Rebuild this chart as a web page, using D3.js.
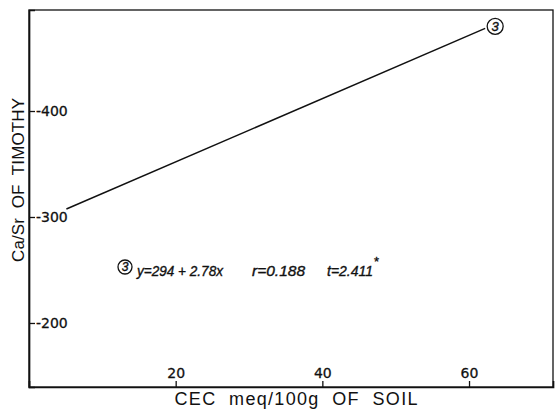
<!DOCTYPE html>
<html>
<head>
<meta charset="utf-8">
<script src="https://cdn.jsdelivr.net/npm/d3@7"></script>
<style>
  html, body { margin: 0; padding: 0; background: #fff; }
  svg { display: block; }
  .title { white-space: pre; }
</style>
</head>
<body>
<svg id="chart" width="555" height="412"></svg>
<script>
// Regression line of timothy Ca/Sr on soil CEC (curve 3)
const lineX = [5.1, 62.2];
const lineY = [307.5, 478];
const xTicks = [20, 40, 60];
const yTicks = [200, 300, 400];
const curveId = "3";
const equationText = "y=294 + 2.78x";
const rText = "r=0.188";
const tText = "t=2.411";

const W = 555, H = 412;
const margin = { left: 29, top: 10, right: 2, bottom: 25 };
const iw = W - margin.left - margin.right;
const ih = H - margin.top - margin.bottom;

const svg = d3.select("#chart");
const g = svg.append("g").attr("transform", `translate(${margin.left},${margin.top})`);

const x = d3.scaleLinear().domain([0, 71.45]).range([0, iw]);
const y = d3.scaleLinear().domain([139.6, 495.3]).range([ih, 0]);

const ink = "#111";
const tickFont = "'DejaVu Sans', sans-serif";

// frame
g.append("rect")
  .attr("x", 0).attr("y", 0).attr("width", iw).attr("height", ih)
  .attr("fill", "none").attr("stroke", ink).attr("stroke-width", 1.3);

// left axis: ticks and labels drawn inside the frame
const yAxis = g.append("g")
  .call(d3.axisRight(y).tickValues(yTicks).tickSize(6).tickPadding(1).tickFormat(d => "-" + d));
yAxis.select(".domain").attr("stroke", ink).attr("stroke-width", 1.7);
yAxis.selectAll(".tick line").attr("stroke", ink).attr("stroke-width", 1.3);
yAxis.selectAll(".tick text")
  .attr("fill", ink).attr("stroke", ink).attr("stroke-width", 0.3)
  .attr("font-family", tickFont).attr("font-size", 14);

// bottom axis: ticks pointing up, labels above
const xAxis = g.append("g").attr("transform", `translate(0,${ih})`)
  .call(d3.axisTop(x).tickValues(xTicks).tickSize(6).tickPadding(3));
xAxis.select(".domain").attr("stroke", ink).attr("stroke-width", 1.7);
xAxis.selectAll(".tick line").attr("stroke", ink).attr("stroke-width", 1.3);
xAxis.selectAll(".tick text")
  .attr("fill", ink).attr("stroke", ink).attr("stroke-width", 0.3)
  .attr("font-family", tickFont).attr("font-size", 14);

// regression line
const pts = lineX.map((v, i) => [v, lineY[i]]);
g.append("path")
  .datum(pts)
  .attr("d", d3.line().x(d => x(d[0])).y(d => y(d[1])))
  .attr("fill", "none").attr("stroke", ink).attr("stroke-width", 1.5);

// circled curve number
function circledNumber(parent, cx, cy, r, size) {
  parent.append("circle").attr("cx", cx).attr("cy", cy).attr("r", r)
    .attr("fill", "#fff").attr("stroke", ink).attr("stroke-width", 1.3);
  parent.append("text").attr("x", cx).attr("y", cy + size * 0.36)
    .attr("text-anchor", "middle").attr("font-family", "'Liberation Sans', sans-serif")
    .attr("font-style", "italic").attr("font-size", size).attr("fill", ink)
    .attr("stroke", ink).attr("stroke-width", 0.4)
    .text(curveId);
}
const endPt = pts[pts.length - 1];
circledNumber(g, x(endPt[0]) + 10, y(endPt[1]) - 2, 8, 13);

// equation annotation
const ann = g.append("g");
const annFont = "'Liberation Sans', sans-serif";
circledNumber(ann, 96, 257, 7, 12);
function annText(xp, txt, len) {
  return ann.append("text").attr("x", xp).attr("y", 266)
    .attr("font-family", annFont).attr("font-style", "italic").attr("font-size", 14)
    .attr("fill", ink).attr("stroke", ink).attr("stroke-width", 0.35)
    .attr("textLength", len).attr("lengthAdjust", "spacingAndGlyphs")
    .text(txt);
}
annText(108, equationText, 86);
annText(223, rText, 53);
// t value with its significance mark as a superscript
const tLabel = ann.append("text").attr("x", 298).attr("y", 266)
  .attr("font-family", annFont).attr("font-style", "italic").attr("font-size", 14)
  .attr("fill", ink).attr("stroke", ink).attr("stroke-width", 0.35);
tLabel.append("tspan").text(tText);
tLabel.append("tspan").attr("dx", 1).attr("dy", -10)
  .attr("font-style", "normal").attr("font-size", 13).text("*");

// axis titles
svg.append("text").attr("class", "title")
  .attr("transform", `translate(24,180) rotate(-90)`)
  .attr("text-anchor", "middle")
  .attr("font-family", "'Liberation Sans', sans-serif").attr("font-size", 17)
  .attr("fill", ink)
  .attr("textLength", 164).attr("lengthAdjust", "spacing")
  .text("Ca/Sr  OF  TIMOTHY");

svg.append("text").attr("class", "title")
  .attr("x", 296).attr("y", 405)
  .attr("text-anchor", "middle")
  .attr("font-family", "'Liberation Sans', sans-serif").attr("font-size", 18)
  .attr("fill", ink)
  .attr("textLength", 243).attr("lengthAdjust", "spacing")
  .text("CEC  meq/100g  OF  SOIL");
</script>
</body>
</html>
